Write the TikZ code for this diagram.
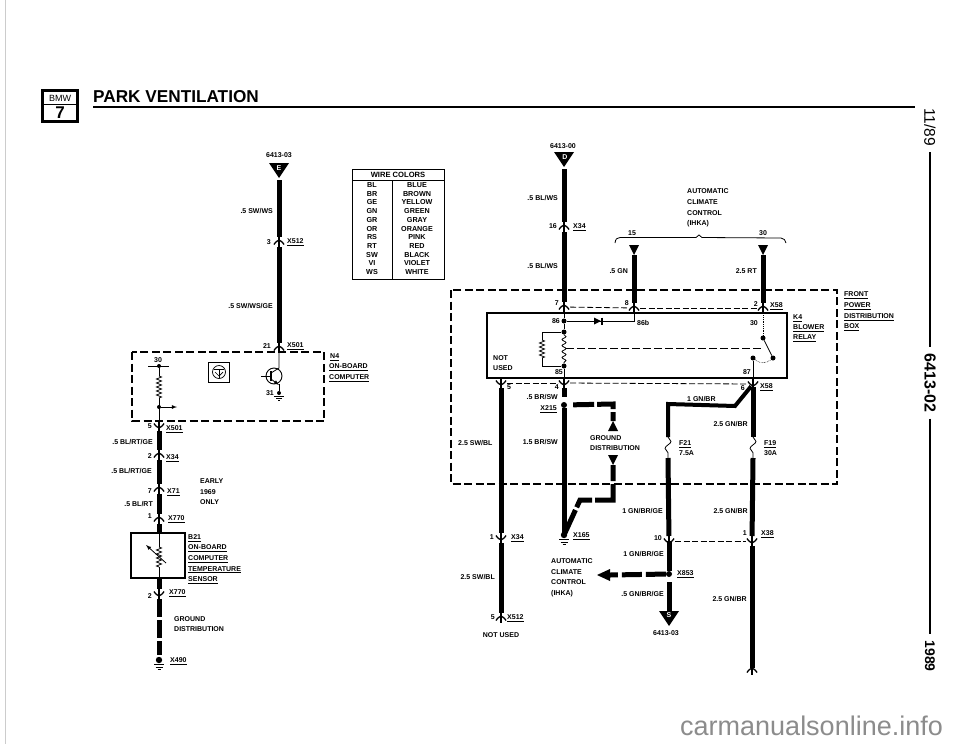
\documentclass[tikz,border=0pt]{standalone}
\usepackage{fontspec}
\setmainfont{Liberation Sans}
\usepackage{amsmath}
\usepackage{tikz}
\usetikzlibrary{decorations.pathmorphing}

\begin{document}
\begin{tikzpicture}[x=1pt, y=-1pt,
		lbl/.style={font=\bfseries\fontsize{7}{8.6}\selectfont, inner sep=0pt, text height=5pt, text depth=0pt},
		rlbl/.style={lbl, anchor=east},
		llbl/.style={lbl, anchor=west},
		clbl/.style={lbl, anchor=center},
		side/.style={rotate=-90, inner sep=0pt, anchor=center},
		wire/.style={line width=5pt},
		pinwire/.style={wire, shorten >=5pt, shorten <=5pt},
		thinwire/.style={line width=0.8pt},
		thindash/.style={line width=0.8pt, dash pattern=on 6pt off 2.5pt, shorten >=6pt, shorten <=6pt},
		dashbox/.style={line width=1.5pt, dash pattern=on 8pt off 3.5pt},
		solidbox/.style={line width=1.4pt},
		dot/.style={circle, fill, inner sep=0pt, minimum size=#1},
		resist/.style={thinwire, decorate, decoration={zigzag, segment length=4pt, amplitude=2.5pt}},
		wavy/.style={thinwire, decorate, decoration={snake, segment length=14pt, amplitude=3pt}},
		plugup/.pic={\draw[line width=1.3pt] (-5,2.5) .. controls (-3,-1) and (-1,-1) .. (0,-2) .. controls (1,-1) and (3,-1) .. (5,2.5); \draw[line width=1.6pt] (0,-5) -- (0,5);},
		plugdown/.pic={\draw[line width=1.3pt] (-5,-2.5) .. controls (-3,1) and (-1,1) .. (0,2) .. controls (1,1) and (3,1) .. (5,-2.5); \draw[line width=1.6pt] (0,-5) -- (0,5);},
		gnd/.pic={\fill (0,0) circle (3.2); \draw[line width=1pt] (-5,4.5) -- (5,4.5); \draw[line width=0.8pt] (-3.5,7) -- (3.5,7); \draw[line width=0.8pt] (-1.5,9.5) -- (1.5,9.5);},
		trismall/.pic={\fill (0,0) -- (-5,-10) -- (5,-10) -- cycle;},
		triup/.pic={\fill (0,0) -- (-5,10) -- (5,10) -- cycle;},
		tribig/.pic={\fill (0,0) -- (-10,-15) -- (10,-15) -- cycle;}]
	\useasboundingbox (0,0) rectangle (960,744);
	\fill[white] (0,0) rectangle (960,744);
	\draw[line width=0.4pt, color=black!20] (5,0) -- (5,744);

	\draw[line width=3pt] (42.5,90.5) rectangle (77,121.5);
	\node[font=\fontsize{9}{9}\selectfont, inner sep=0pt] (logoBmw) at (60,98) {BMW};
	\node[font=\bfseries\fontsize{17}{17}\selectfont, inner sep=0pt] (logoSeven) at (60,112.5) {7};
	\draw[line width=0.6pt] (44,104) -- (76,104);
	\node[font=\bfseries\fontsize{17.2}{18}\selectfont, anchor=base west, inner sep=0pt] (title) at (93,102) {PARK VENTILATION};
	\draw[line width=1.5pt] (93,107) -- (915,107);

	\node[side, font=\fontsize{15.5}{15.5}\selectfont] (sideDate) at (930,127) {11/89};
	\node[side, font=\bfseries\fontsize{16}{16}\selectfont] (sideCode) at (930,383) {6413-02};
	\node[side, font=\bfseries\fontsize{14}{14}\selectfont] (sideYear) at (930,656) {1989};
	\draw[line width=1.6pt, shorten <=6pt, shorten >=6pt] (sideDate.east) -- (sideCode.west);
	\draw[line width=1.6pt, shorten <=6pt, shorten >=6pt] (sideCode.east) -- (sideYear.west);

	\node[lbl, font=\bfseries\fontsize{7.6}{8.6}\selectfont, anchor=center] (wcHead) at (398,175) {WIRE COLORS};
	\draw[solidbox, line width=1pt] (352,169) rectangle (444,279);
	\draw[line width=0.8pt] (352,180.5) -- (444,180.5);
	\draw[line width=0.8pt] (392,180.5) -- (392,279);
	\node[font=\bfseries\fontsize{7.2}{8.67}\selectfont, align=center, anchor=north, inner sep=0pt] (wcAbbr) at (372,182.5) {BL\\BR\\GE\\GN\\GR\\OR\\RS\\RT\\SW\\VI\\WS};
	\node[font=\bfseries\fontsize{7.2}{8.67}\selectfont, align=center, anchor=north, inner sep=0pt] (wcName) at (417,182.5) {BLUE\\BROWN\\YELLOW\\GREEN\\GRAY\\ORANGE\\PINK\\RED\\BLACK\\VIOLET\\WHITE};

	\coordinate (apexE) at (279,178);
	\coordinate (pinA1) at (279,242);
	\coordinate (pinA2) at (279,348);
	\coordinate (pinB1) at (159,426);
	\coordinate (pinB2) at (159,455);
	\coordinate (pinB3) at (159,489);
	\coordinate (pinB4) at (159,519);
	\coordinate (sensorTop) at (159,533);
	\coordinate (sensorBot) at (159,578);
	\coordinate (pinB5) at (159,594);
	\coordinate (gndB) at (159,660);

	\pic at (apexE) {tribig};
	\node[clbl, text=white] (letterE) at (279,168) {E};
	\node[clbl] (refE) at (279,155) {6413-03};
	\draw[pinwire, shorten <=2pt] (apexE) -- (pinA1);
	\pic at (pinA1) {plugup};
	\draw[pinwire] (pinA1) -- (pinA2);
	\pic at (pinA2) {plugup};
	\node[rlbl] (labA1) at (273,211) {.5 SW/WS};
	\node[rlbl] (labA2) at (273,306) {.5 SW/WS/GE};
	\node[rlbl] (numA1) at (271,242) {3};
	\node[llbl] (conA1) at (287,241) {\underline{X512}};
	\node[rlbl] (numA2) at (271,346) {21};
	\node[llbl] (conA2) at (287,345) {\underline{X501}};

	\draw[dashbox] (132,352) rectangle (324,421);
	\node[llbl] (n4a) at (330,356) {\underline{N4}};
	\node[llbl] (n4b) at (329,366) {\underline{ON-BOARD}};
	\node[llbl] (n4c) at (329,377) {\underline{COMPUTER}};

	\node[clbl] (n30) at (158,360) {30};
	\draw[thinwire] (148,366) -- (169,366);
	\node[dot=4pt] (nTop) at (159,366) {};
	\coordinate (nRa) at (159,376);
	\coordinate (nRb) at (159,398);
	\node[dot=4pt] (nOut) at (159,407) {};
	\coordinate (nArrow) at (177,407);
	\draw[thinwire] (nTop) -- (nRa);
	\draw[resist] (nRa) -- (nRb);
	\draw[thinwire] (nRb) -- (pinB1);
	\draw[thinwire, -latex] (nOut) -- (nArrow);

	\node[draw, line width=0.9pt, minimum width=21pt, minimum height=20pt, inner sep=0pt] (icBox) at (219,372) {};
	\node[draw, circle, line width=0.7pt, minimum size=13pt, inner sep=0pt] (icRing) at (219,372) {};
	\draw[line width=0.7pt] (214,369) -- (224,369);
	\draw[line width=0.7pt] (219,369) -- (219,378);
	\draw[line width=0.7pt] (215,372) -- (219,376) -- (223,372);

	\node[draw, circle, line width=0.9pt, minimum size=16pt, inner sep=0pt] (trans) at (274,376) {};
	\coordinate (trBase) at (271,376);
	\coordinate (trIn) at (261,376);
	\coordinate (trCol) at (279,368);
	\node[dot=4pt] (trEmit) at (279,393) {};
	\draw[thinwire] (trIn) -- (trBase);
	\draw[line width=1.4pt] (271,371) -- (271,381);
	\draw[thinwire] (pinA2) -- (trCol) -- (271,373);
	\draw[thinwire, -latex] (271,379) -- (279,385);
	\draw[thinwire] (279,384) -- (trEmit);
	\draw[line width=0.9pt] (274,396.5) -- (284,396.5);
	\draw[line width=0.7pt] (276,398.5) -- (282,398.5);
	\draw[line width=0.7pt] (278,400.5) -- (280,400.5);
	\node[rlbl] (num31) at (274,393) {31};

	\pic at (pinB1) {plugdown};
	\draw[pinwire] (pinB1) -- (pinB2);
	\pic at (pinB2) {plugup};
	\draw[pinwire] (pinB2) -- (pinB3);
	\pic at (pinB3) {plugup};
	\draw[pinwire] (pinB3) -- (pinB4);
	\pic at (pinB4) {plugup};
	\draw[wire, shorten <=5pt] (pinB4) -- (sensorTop);
	\draw[wire, shorten >=5pt] (sensorBot) -- (pinB5);
	\pic at (pinB5) {plugdown};
	\draw[pinwire, dash pattern=on 18pt off 3pt] (pinB5) -- (gndB);
	\pic at (gndB) {gnd};

	\node[rlbl] (numB1) at (152,426) {5};
	\node[llbl] (conB1) at (166,428) {\underline{X501}};
	\node[rlbl] (labB1) at (153,442) {.5 BL/RT/GE};
	\node[rlbl] (numB2) at (152,456) {2};
	\node[llbl] (conB2) at (166,457) {\underline{X34}};
	\node[rlbl] (labB2) at (152,471) {.5 BL/RT/GE};
	\node[rlbl] (numB3) at (152,491) {7};
	\node[llbl] (conB3) at (167,491) {\underline{X71}};
	\node[rlbl] (labB3) at (153,504) {.5 BL/RT};
	\node[rlbl] (numB4) at (152,516) {1};
	\node[llbl] (conB4) at (168,518) {\underline{X770}};
	\node[rlbl] (numB5) at (152,596) {2};
	\node[llbl] (conB5) at (169,592) {\underline{X770}};
	\node[llbl] (conB6) at (170,660) {\underline{X490}};
	\node[llbl] (early) at (200,481) {EARLY};
	\node[llbl] (year) at (200,492) {1969};
	\node[llbl] (only) at (200,502) {ONLY};
	\node[llbl] (gdA) at (174,619) {GROUND};
	\node[llbl] (gdB) at (174,629) {DISTRIBUTION};

	\draw[solidbox] (131,533) rectangle (185,578);
	\coordinate (thRa) at (159,547);
	\coordinate (thRb) at (159,567);
	\draw[thinwire] (sensorTop) -- (thRa);
	\draw[resist] (thRa) -- (thRb);
	\draw[thinwire] (thRb) -- (sensorBot);
	\coordinate (thTip) at (146,545);
	\coordinate (thEnd) at (166,563);
	\draw[thinwire, latex-] (thTip) -- (thEnd);
	\node[llbl] (b21a) at (188,537) {\underline{B21}};
	\node[llbl] (b21b) at (188,547) {\underline{ON-BOARD}};
	\node[llbl] (b21c) at (188,558) {\underline{COMPUTER}};
	\node[llbl] (b21d) at (188,568.5) {\underline{TEMPERATURE}};
	\node[llbl] (b21e) at (188,579) {\underline{SENSOR}};

	\draw[dashbox] (451,290) rectangle (837,484);
	\draw[solidbox] (487,313) rectangle (787,378);

	\coordinate (apexD) at (564,167);
	\coordinate (pinD1) at (564,227);
	\coordinate (pinD2) at (564,307);
	\coordinate (pinD3) at (564,383);
	\coordinate (apexF) at (634,255);
	\coordinate (pinF) at (634,308);
	\coordinate (apexG) at (763,255);
	\coordinate (pinG) at (763,308);
	\coordinate (pinH) at (753,384);
	\coordinate (pinC1) at (501,383);
	\coordinate (pinC2) at (501,538);
	\coordinate (pinC3) at (501,618);
	\coordinate (pinJ) at (752,541);
	\coordinate (pinJend) at (752,670);
	\coordinate (pinK) at (669,541);

	\pic at (apexD) {tribig};
	\node[clbl, text=white] (letterD) at (565,157) {D};
	\node[clbl] (refD) at (563,146) {6413-00};
	\draw[pinwire, shorten <=2pt] (apexD) -- (pinD1);
	\pic at (pinD1) {plugup};
	\draw[pinwire] (pinD1) -- (pinD2);
	\pic at (pinD2) {plugup};
	\node[rlbl] (labD1) at (558,198) {.5 BL/WS};
	\node[rlbl] (labD2) at (558,266) {.5 BL/WS};
	\node[rlbl] (numD1) at (557,226) {16};
	\node[llbl] (conD1) at (573,226) {\underline{X34}};
	\node[rlbl] (numD2) at (559,303) {7};

	\pic at (apexF) {trismall};
	\draw[wire, shorten >=5pt] (apexF) -- (pinF);
	\pic at (pinF) {plugup};
	\node[rlbl] (labF) at (628,271) {.5 GN};
	\node[rlbl] (numF) at (629,303) {8};
	\node[clbl] (num15) at (632,233) {15};

	\pic at (apexG) {trismall};
	\draw[wire, shorten >=5pt] (apexG) -- (pinG);
	\pic at (pinG) {plugup};
	\node[rlbl] (labG) at (757,271) {2.5 RT};
	\node[rlbl] (numG) at (758,304) {2};
	\node[llbl] (conG) at (770,305) {\underline{X58}};
	\node[clbl] (num30b) at (763,233) {30};

	\draw[line width=0.8pt] (615,243) .. controls (615.5,239) and (617,237.5) .. (620,237.5) -- (696,237.5) -- (699,235) -- (702,237.5) -- (781,238) .. controls (784,238.5) and (785.5,240) .. (786,243);
	\node[llbl] (hkaA) at (687,191) {AUTOMATIC};
	\node[llbl] (hkaB) at (687,202) {CLIMATE};
	\node[llbl] (hkaC) at (687,212.5) {CONTROL};
	\node[llbl] (hkaD) at (687,223) {(IHKA)};

	\draw[thindash] (pinD2) -- (pinF);
	\draw[thindash] (pinF) -- (pinG);
	\draw[thindash] (pinC1) -- (pinD3);
	\draw[thindash] (pinD3) -- (pinH);
	\draw[thindash] (pinK) -- (pinJ);

	\node[dot=5pt] (k86) at (564,321) {};
	\node[rlbl] (num86) at (560,321) {86};
	\coordinate (k86b) at (634,321);
	\node[llbl] (num86b) at (637,323) {86b};
	\draw[thinwire] (pinD2) -- (k86);
	\draw[thinwire] (k86) -- (k86b) -- (pinF);
	\fill (594,317.5) -- (594,324.5) -- (601,321) -- cycle;
	\draw[line width=1.2pt] (602,317.5) -- (602,324.5);
	\node[dot=5pt] (kA) at (564,332) {};
	\node[dot=5pt] (kB) at (564,366) {};
	\coordinate (kLa) at (542,332);
	\coordinate (kLb) at (542,366);
	\coordinate (kRa) at (542,340);
	\coordinate (kRb) at (542,358);
	\draw[thinwire] (k86) -- (kA);
	\draw[wavy, decoration={snake, segment length=6pt, amplitude=2pt}] (kA) -- (kB);
	\draw[thinwire] (kA) -- (kLa) -- (kRa);
	\draw[resist] (kRa) -- (kRb);
	\draw[thinwire] (kRb) -- (kLb) -- (kB);
	\draw[thinwire] (kB) -- (pinD3);
	\node[rlbl] (num85) at (563,372) {85};
	\node[llbl] (notA) at (493,358) {NOT};
	\node[llbl] (notB) at (493,368) {USED};
	\coordinate (coilTap) at (566,348);
	\coordinate (swTap) at (763,348);
	\draw[line width=0.8pt, dash pattern=on 8pt off 3pt] (coilTap) -- (swTap);

	\node[dot=5pt] (swA) at (763,338) {};
	\node[dot=5pt] (swB) at (773,358) {};
	\node[dot=5pt] (swC) at (753,358) {};
	\node[rlbl] (num30c) at (758,323) {30};
	\node[rlbl] (num87) at (751,372) {87};
	\draw[thinwire, densely dotted] (pinG) -- (swA);
	\draw[thinwire] (swA) -- (swB);
	\draw[line width=0.6pt, densely dotted] (swC) to[bend right=40] (swB);
	\draw[thinwire] (swC) -- (pinH);
	\node[llbl] (k4a) at (793,317) {\underline{K4}};
	\node[llbl] (k4b) at (793,327) {\underline{BLOWER}};
	\node[llbl] (k4c) at (793,337) {\underline{RELAY}};
	\node[llbl] (fpA) at (844,294) {\underline{FRONT}};
	\node[llbl] (fpB) at (844,305) {\underline{POWER}};
	\node[llbl] (fpC) at (844,316) {\underline{DISTRIBUTION}};
	\node[llbl] (fpD) at (844,326) {\underline{BOX}};

	\pic at (pinC1) {plugdown};
	\draw[pinwire] (pinC1) -- (pinC2);
	\pic at (pinC2) {plugdown};
	\draw[pinwire] (pinC2) -- (pinC3);
	\pic at (pinC3) {plugup};
	\node[llbl] (numC1) at (507,387) {5};
	\node[llbl] (labC1) at (458,443) {2.5 SW/BL};
	\node[rlbl] (numC2) at (494,537) {1};
	\node[llbl] (conC2) at (511,537) {\underline{X34}};
	\node[rlbl] (labC2) at (495,577) {2.5 SW/BL};
	\node[rlbl] (numC3) at (495,617) {5};
	\node[llbl] (conC3) at (507,617) {\underline{X512}};
	\node[clbl] (notUsed) at (501,635) {NOT USED};

	\pic at (pinD3) {plugdown};
	\node[dot=6pt] (x215) at (564,405) {};
	\node[rlbl] (numD3) at (559,387) {4};
	\node[rlbl] (labD3) at (558,397) {.5 BR/SW};
	\node[rlbl] (conD3) at (557,408) {\underline{X215}};
	\node[rlbl] (labD4) at (558,442) {1.5 BR/SW};
	\coordinate (gndD) at (564,535);
	\draw[pinwire] (pinD3) -- (x215);
	\draw[wire] (x215) -- (gndD);
	\pic at (gndD) {gnd};
	\node[llbl] (conD4) at (573,535) {\underline{X165}};

	\coordinate (branchA) at (613,404);
	\coordinate (apexUp) at (613,421);
	\coordinate (apexDn) at (613,465);
	\coordinate (branchB) at (613,500);
	\coordinate (branchC) at (580,500);
	\draw[wire, shorten <=6pt, dash pattern=on 21pt off 3pt] (x215) -- (branchA) -- (apexUp);
	\pic at (apexUp) {triup};
	\pic at (apexDn) {trismall};
	\draw[wire, dash pattern=on 16pt off 3pt on 34pt off 3pt on 20pt off 3pt on 60pt off 0pt] (apexDn) -- (branchB) -- (branchC) -- (gndD);
	\node[llbl] (gdC) at (590,438) {GROUND};
	\node[llbl] (gdD) at (590,448) {DISTRIBUTION};

	\pic at (pinH) {plugdown};
	\node[rlbl] (numH) at (745,388) {6};
	\node[llbl] (conH) at (760,386) {\underline{X58}};
	\coordinate (fuseJa) at (753,437);
	\coordinate (fuseJb) at (753,458);
	\coordinate (bendA) at (735,406);
	\coordinate (bendB) at (668,404);
	\coordinate (fuseKa) at (668,437);
	\coordinate (fuseKb) at (668,458);
	\draw[wire, shorten <=3pt] (pinH) -- (fuseJa);
	\draw[wavy] (fuseJa) -- (fuseJb);
	\draw[wire, shorten >=5pt] (fuseJb) -- (pinJ);
	\pic at (pinJ) {plugdown};
	\draw[pinwire, shorten <=5pt, shorten >=2pt] (pinJ) -- (pinJend);
	\pic at (pinJend) {plugup};
	\draw[wire, line width=4pt, shorten <=3pt] (pinH) -- (bendA) -- (bendB) -- (fuseKa);
	\draw[wavy] (fuseKa) -- (fuseKb);
	\draw[wire, shorten >=5pt] (fuseKb) -- (pinK);
	\pic at (pinK) {plugdown};
	\node[llbl] (labK1) at (687,399) {1 GN/BR};
	\node[rlbl] (labJ1) at (748,424) {2.5 GN/BR};
	\node[llbl] (f21a) at (679,443) {\underline{F21}};
	\node[llbl] (f21b) at (679,453) {7.5A};
	\node[llbl] (f19a) at (764,443) {\underline{F19}};
	\node[llbl] (f19b) at (764,453) {30A};
	\node[rlbl] (labK3) at (663,511) {1 GN/BR/GE};
	\node[rlbl] (labJ2) at (748,511) {2.5 GN/BR};
	\node[rlbl] (numK) at (662,538) {10};
	\node[rlbl] (numJ) at (747,533) {1};
	\node[llbl] (conJ) at (761,533) {\underline{X38}};
	\node[rlbl] (labJ3) at (747,599) {2.5 GN/BR};

	\node[dot=6pt] (x853) at (669,574) {};
	\coordinate (apexS) at (669,626);
	\pic at (apexS) {tribig};
	\node[clbl, text=white] (letterS) at (669,615) {S};
	\node[clbl] (refS) at (666,633) {6413-03};
	\draw[wire, shorten <=5pt] (pinK) -- (x853) -- (669,612);
	\coordinate (arrowBase) at (610,575);
	\draw[wire, dash pattern=on 20pt off 4pt] (x853) -- (arrowBase);
	\fill (597,575) -- (610,569) -- (610,581) -- cycle;
	\node[llbl] (conK) at (677,573) {\underline{X853}};
	\node[rlbl] (labK4) at (664,554) {1 GN/BR/GE};
	\node[rlbl] (labK5) at (664,594) {.5 GN/BR/GE};
	\node[llbl] (hkbA) at (551,561) {AUTOMATIC};
	\node[llbl] (hkbB) at (551,572) {CLIMATE};
	\node[llbl] (hkbC) at (551,582) {CONTROL};
	\node[llbl] (hkbD) at (551,593) {(IHKA)};

	\node[font=\fontsize{27}{27}\selectfont, text=black!45, anchor=base west, inner sep=0pt] (mark) at (680,735) {carmanualsonline.info};
\end{tikzpicture}
\end{document}
